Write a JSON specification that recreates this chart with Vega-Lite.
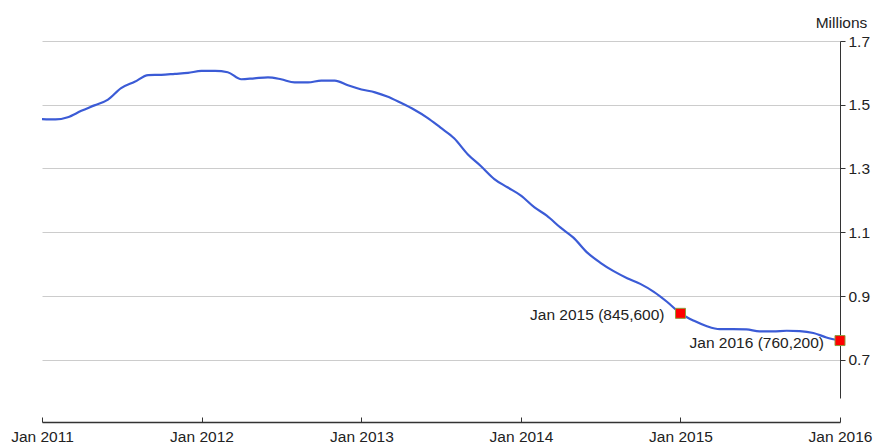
{
  "$schema": "https://vega.github.io/schema/vega-lite/v6.json",
  "width": 798,
  "height": 357,
  "autosize": {"type": "none"},
  "padding": {"left": 42, "top": 41, "right": 33, "bottom": 50},
  "background": "white",
  "config": {
    "view": {"stroke": null},
    "font": "Liberation Sans",
    "axis": {"labelFont": "Liberation Sans", "titleFont": "Liberation Sans"}
  },
  "data": {
    "values": [
      {"date": "2011-01-01T00:00:00", "value": 1.455},
      {"date": "2011-02-01T00:00:00", "value": 1.454},
      {"date": "2011-03-01T00:00:00", "value": 1.461},
      {"date": "2011-04-01T00:00:00", "value": 1.481},
      {"date": "2011-05-01T00:00:00", "value": 1.498},
      {"date": "2011-06-01T00:00:00", "value": 1.516},
      {"date": "2011-07-01T00:00:00", "value": 1.552},
      {"date": "2011-08-01T00:00:00", "value": 1.572},
      {"date": "2011-09-01T00:00:00", "value": 1.593},
      {"date": "2011-10-01T00:00:00", "value": 1.594},
      {"date": "2011-11-01T00:00:00", "value": 1.597},
      {"date": "2011-12-01T00:00:00", "value": 1.600},
      {"date": "2012-01-01T00:00:00", "value": 1.606},
      {"date": "2012-02-01T00:00:00", "value": 1.606},
      {"date": "2012-03-01T00:00:00", "value": 1.602},
      {"date": "2012-04-01T00:00:00", "value": 1.580},
      {"date": "2012-05-01T00:00:00", "value": 1.583},
      {"date": "2012-06-01T00:00:00", "value": 1.586},
      {"date": "2012-07-01T00:00:00", "value": 1.580},
      {"date": "2012-08-01T00:00:00", "value": 1.570},
      {"date": "2012-09-01T00:00:00", "value": 1.570},
      {"date": "2012-10-01T00:00:00", "value": 1.576},
      {"date": "2012-11-01T00:00:00", "value": 1.576},
      {"date": "2012-12-01T00:00:00", "value": 1.561},
      {"date": "2013-01-01T00:00:00", "value": 1.548},
      {"date": "2013-02-01T00:00:00", "value": 1.539},
      {"date": "2013-03-01T00:00:00", "value": 1.526},
      {"date": "2013-04-01T00:00:00", "value": 1.506},
      {"date": "2013-05-01T00:00:00", "value": 1.485},
      {"date": "2013-06-01T00:00:00", "value": 1.459},
      {"date": "2013-07-01T00:00:00", "value": 1.428},
      {"date": "2013-08-01T00:00:00", "value": 1.395},
      {"date": "2013-09-01T00:00:00", "value": 1.345},
      {"date": "2013-10-01T00:00:00", "value": 1.308},
      {"date": "2013-11-01T00:00:00", "value": 1.267},
      {"date": "2013-12-01T00:00:00", "value": 1.241},
      {"date": "2014-01-01T00:00:00", "value": 1.215},
      {"date": "2014-02-01T00:00:00", "value": 1.178},
      {"date": "2014-03-01T00:00:00", "value": 1.152},
      {"date": "2014-04-01T00:00:00", "value": 1.115},
      {"date": "2014-05-01T00:00:00", "value": 1.083},
      {"date": "2014-06-01T00:00:00", "value": 1.037},
      {"date": "2014-07-01T00:00:00", "value": 1.005},
      {"date": "2014-08-01T00:00:00", "value": 0.978},
      {"date": "2014-09-01T00:00:00", "value": 0.956},
      {"date": "2014-10-01T00:00:00", "value": 0.938},
      {"date": "2014-11-01T00:00:00", "value": 0.913},
      {"date": "2014-12-01T00:00:00", "value": 0.882},
      {"date": "2015-01-01T00:00:00", "value": 0.8456, "label": "Jan 2015 (845,600)"},
      {"date": "2015-02-01T00:00:00", "value": 0.822},
      {"date": "2015-03-01T00:00:00", "value": 0.806},
      {"date": "2015-04-01T00:00:00", "value": 0.796},
      {"date": "2015-05-01T00:00:00", "value": 0.796},
      {"date": "2015-06-01T00:00:00", "value": 0.795},
      {"date": "2015-07-01T00:00:00", "value": 0.789},
      {"date": "2015-08-01T00:00:00", "value": 0.789},
      {"date": "2015-09-01T00:00:00", "value": 0.791},
      {"date": "2015-10-01T00:00:00", "value": 0.790},
      {"date": "2015-11-01T00:00:00", "value": 0.784},
      {"date": "2015-12-01T00:00:00", "value": 0.770},
      {"date": "2016-01-01T00:00:00", "value": 0.7602, "label": "Jan 2016 (760,200)"}
    ]
  },
  "encoding": {
    "x": {
      "field": "date",
      "type": "temporal",
      "scale": {"domain": [{"year": 2011, "month": 1, "date": 1}, {"year": 2016, "month": 1, "date": 1}], "nice": false},
      "axis": {
        "orient": "bottom",
        "offset": 24,
        "title": null,
        "grid": false,
        "values": [
          {"year": 2011, "month": 1, "date": 1},
          {"year": 2012, "month": 1, "date": 1},
          {"year": 2013, "month": 1, "date": 1},
          {"year": 2014, "month": 1, "date": 1},
          {"year": 2015, "month": 1, "date": 1},
          {"year": 2016, "month": 1, "date": 1}
        ],
        "format": "%b %Y",
        "labelFontSize": 15.5,
        "labelColor": "#222222",
        "labelPadding": 12,
        "labelFlush": false,
        "labelOverlap": false,
        "domainColor": "#333333",
        "tickColor": "#333333",
        "tickSize": -5,
        "domainWidth": 1.5
      }
    },
    "y": {
      "field": "value",
      "type": "quantitative",
      "scale": {"domain": [0.58, 1.7], "nice": false, "zero": false},
      "axis": {
        "orient": "right",
        "values": [0.7, 0.9, 1.1, 1.3, 1.5, 1.7],
        "format": ".1f",
        "title": "Millions",
        "titleAngle": 0,
        "titleAlign": "center",
        "titleBaseline": "middle",
        "titleX": 1,
        "titleY": -19,
        "titleFontSize": 15.5,
        "titleFontWeight": "normal",
        "titleColor": "#222222",
        "labelFontSize": 15.5,
        "labelColor": "#222222",
        "labelPadding": 3,
        "tickSize": 5,
        "tickColor": "#333333",
        "domainColor": "#333333",
        "gridColor": "#cccccc",
        "grid": true,
        "labelOverlap": false,
        "labelFlush": false
      }
    }
  },
  "layer": [
    {
      "mark": {"type": "line", "color": "#3b5bd6", "strokeWidth": 2.2, "interpolate": "monotone"}
    },
    {
      "transform": [{"filter": "isValid(datum.label)"}],
      "mark": {"type": "point", "shape": "square", "size": 100, "filled": true, "fill": "#ff0000", "stroke": "#8f9a3c", "strokeWidth": 1, "opacity": 1}
    },
    {
      "transform": [{"filter": "isValid(datum.label)"}],
      "mark": {"type": "text", "align": "right", "baseline": "middle", "dx": -16, "dy": 2, "fontSize": 15.5, "color": "#222222"},
      "encoding": {"text": {"field": "label"}}
    }
  ]
}
